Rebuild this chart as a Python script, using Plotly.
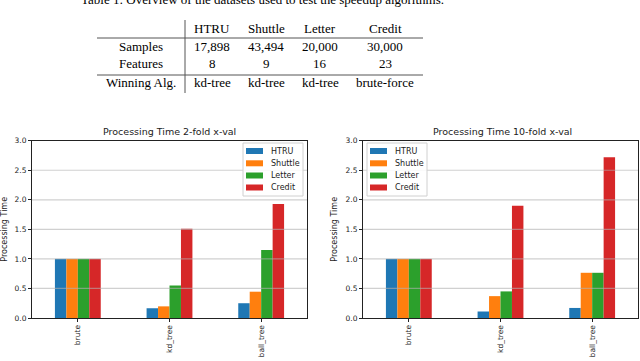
import plotly.graph_objects as go

# datos
datasets = ["HTRU", "Shuttle", "Letter", "Credit"]
algoritmos = ["brute", "kd_tree", "ball_tree"]
colores = ["#1f77b4", "#ff7f0e", "#2ca02c", "#d62728"]

tiempo_2fold = {
    "HTRU": [1.0, 0.165, 0.25],
    "Shuttle": [1.0, 0.197, 0.445],
    "Letter": [1.0, 0.55, 1.15],
    "Credit": [1.0, 1.51, 1.93],
}
tiempo_10fold = {
    "HTRU": [1.0, 0.11, 0.17],
    "Shuttle": [1.0, 0.37, 0.765],
    "Letter": [1.0, 0.45, 0.765],
    "Credit": [1.0, 1.90, 2.72],
}
yticks = [0.0, 0.5, 1.0, 1.5, 2.0, 2.5, 3.0]

# tabla
tabla_cols = ["HTRU", "Shuttle", "Letter", "Credit"]
tabla_filas = ["Samples", "Features", "Winning Alg."]
samples = ["17,898", "43,494", "20,000", "30,000"]
features = ["8", "9", "16", "23"]
winning = ["kd-tree", "kd-tree", "kd-tree", "brute-force"]
caption = "Table 1: Overview of the datasets used to test the speedup algorithms."

W, H = 640, 361
def px(x): return x / W
def py(y): return (H - y) / H

def texto(fig, t, x, y, font, xanchor="center"):
    fig.add_annotation(text=t, x=px(x), y=py(y), xref="paper", yref="paper",
                       xanchor=xanchor, yanchor="middle", showarrow=False, font=font)

fig = go.Figure()

for i, ds in enumerate(datasets):
    fig.add_trace(go.Bar(x=algoritmos, y=tiempo_2fold[ds], name=ds, marker_color=colores[i],
                         marker_line_width=0, xaxis="x", yaxis="y", showlegend=False))
for i, ds in enumerate(datasets):
    fig.add_trace(go.Bar(x=algoritmos, y=tiempo_10fold[ds], name=ds, marker_color=colores[i],
                         marker_line_width=0, xaxis="x2", yaxis="y2", showlegend=False))

ydom = [py(318), py(140.7)]
eje_x = dict(showline=True, linecolor="#222", linewidth=1, mirror=True, ticks="outside",
             ticklen=3, tickcolor="#222", tickangle=-90, showgrid=False, automargin=False,
             tickfont=dict(family="DejaVu Sans", size=7.5, color="#222"), range=[-0.5, 2.5])
eje_y = dict(showline=True, linecolor="#222", linewidth=1, mirror=True, ticks="outside",
             ticklen=3, tickcolor="#222", range=[0, 3], tickvals=yticks, tickformat=".1f",
             showgrid=False, zeroline=False, automargin=False,
             tickfont=dict(family="DejaVu Sans", size=7.5, color="#222"),
             title=dict(text="Processing Time", font=dict(family="DejaVu Sans", size=8, color="#222"),
                        standoff=6))

fig.update_layout(
    template="none",
    width=W, height=H, margin=dict(l=0, r=0, t=0, b=0, pad=0),
    paper_bgcolor="white", plot_bgcolor="white",
    barmode="group", bargap=0.5, bargroupgap=0,
    xaxis=dict(domain=[px(32), px(307)], anchor="y", **eje_x),
    yaxis=dict(domain=ydom, anchor="x", **eje_y),
    xaxis2=dict(domain=[px(363), px(638)], anchor="y2", **eje_x),
    yaxis2=dict(domain=ydom, anchor="x2", **eje_y),
    showlegend=False,
    font=dict(family="DejaVu Sans"),
)

# lineas de rejilla encima de las barras, como en matplotlib
for xr, yr in [("x", "y"), ("x2", "y2")]:
    for v in yticks[1:-1]:
        fig.add_shape(type="line", xref=xr + " domain", yref=yr, x0=0, x1=1, y0=v, y1=v,
                      line=dict(color="rgba(176,176,176,0.6)", width=1.2), layer="above")

# leyendas dibujadas a mano (estilo matplotlib, mas compactas)
fuente_ley = dict(family="DejaVu Sans", size=8, color="#222")
filas_ley = [151, 163.3, 175.5, 187.5]
for caja_x0 in [243, 367]:
    fig.add_shape(type="rect", xref="paper", yref="paper", x0=px(caja_x0), x1=px(caja_x0 + 60),
                  y0=py(196), y1=py(143), line=dict(color="#d0d0d0", width=1),
                  fillcolor="rgba(255,255,255,0.85)", layer="above")
    for ds, col, fy in zip(datasets, colores, filas_ley):
        fig.add_shape(type="rect", xref="paper", yref="paper", x0=px(caja_x0 + 3), x1=px(caja_x0 + 20),
                      y0=py(fy + 3), y1=py(fy - 3), line=dict(width=0), fillcolor=col, layer="above")
        texto(fig, ds, caja_x0 + 26, fy, fuente_ley, xanchor="left")

# titulos de los graficos
fuente_tit = dict(family="DejaVu Sans", size=9.5, color="#222")
texto(fig, "Processing Time 2-fold x-val", 169, 132, fuente_tit)
texto(fig, "Processing Time 10-fold x-val", 502, 132, fuente_tit)

# tabla superior (el pie de tabla queda cortado arriba, como en la imagen original)
serif = dict(family="Liberation Serif", size=13, color="black")
texto(fig, caption, 262, -1, serif)
col_x = [212, 266, 320, 385]
fila_y = [47, 64, 82]
for cx, c in zip(col_x, tabla_cols):
    texto(fig, c, cx, 28, serif)
for fy, nombre, valores in zip(fila_y, tabla_filas, [samples, features, winning]):
    texto(fig, nombre, 141, fy, serif)
    for cx, v in zip(col_x, valores):
        texto(fig, v, cx, fy, serif)
for ly in [38, 75]:
    fig.add_shape(type="line", xref="paper", yref="paper", x0=px(97), x1=px(423), y0=py(ly), y1=py(ly),
                  line=dict(color="#555", width=1))
fig.add_shape(type="line", xref="paper", yref="paper", x0=px(185), x1=px(185), y0=py(20), y1=py(93),
              line=dict(color="#555", width=1))

fig.write_html("out.html", config={"displayModeBar": False},
               post_script="document.body.style.margin='0px';")
